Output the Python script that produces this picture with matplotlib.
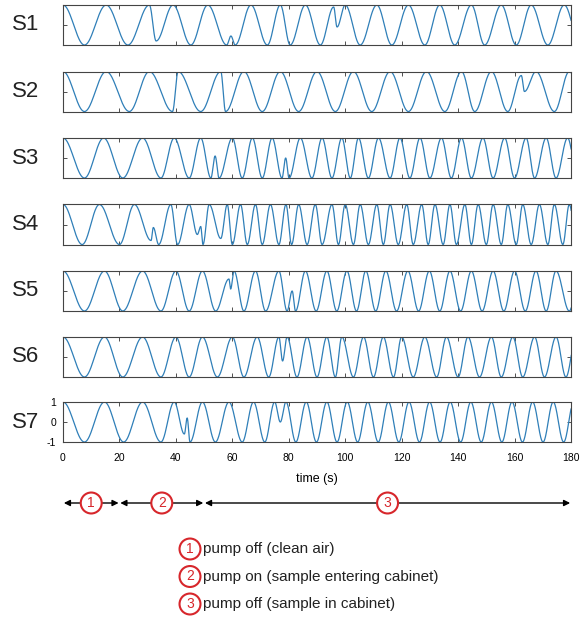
import numpy as np
import matplotlib.pyplot as plt

plt.rcParams['font.family'] = ['Liberation Sans', 'DejaVu Sans']
plt.rcParams['axes.unicode_minus'] = False

# extrema of each sensor trace (time in s, normalised value)
s1 = [(0, 1), (7.6, -1), (15.3, 1), (23, -1), (30.6, 1), (33, -0.8), (39, 1), (45.3, -1),
      (51.3, 1), (58, -1), (59.5, -0.55), (61, -1), (66.6, 1), (72.4, -1), (77, 1), (80.5, -1),
      (85.9, 1), (91.2, -1), (95.9, 0.9), (97.1, -0.1), (100, 1), (105.3, -1), (111.2, 1),
      (116.5, -1), (122.4, 1), (128.2, -1), (133.5, 1), (138.8, -1), (144.7, 1), (149.4, -1),
      (155.3, 1), (160.6, -1), (165.9, 1), (171.8, -1), (177.6, 1), (183.3, -1)]
s2 = [(0, 1), (7.6, -1), (15.3, 1), (23.5, -1), (30.6, 1), (38.8, -1), (40.8, 1), (48.8, -1),
      (55.9, 1), (57.6, -1), (64.1, 1), (70.6, -1), (77, 1), (83.5, -1), (90, 1), (96.5, -1),
      (102.9, 1), (109.4, -1), (115.9, 1), (122.4, -1), (128.8, 1), (135.3, -1), (141.2, 1),
      (145.9, -1), (151.8, 1), (157.6, -1), (162.4, 0.8), (163.5, 0.0), (167.6, 1), (174.1, -1),
      (179.4, 1), (185, -1)]
s3 = [(0, 1), (7.6, -1), (14.4, 1), (21.2, -1), (28.2, 1), (34.7, -1), (39.4, 1), (44.7, -1),
      (48.8, 1), (52.4, -1), (53.9, 0.1), (55.3, -1), (60, 1), (63.5, -1), (67.1, 1), (70.6, -1),
      (74.1, 1), (77.6, -1), (78.9, 0.0), (80.1, -1), (84.1, 1), (88.2, -1), (91.8, 1), (95.3, -1),
      (98.8, 1), (101.8, -1), (104.7, 1), (108.2, -1), (111.8, 1), (115.9, -1), (119.4, 1),
      (122.9, -1), (126.5, 1), (130, -1), (134.1, 1), (137.6, -1), (141.2, 1), (144.7, -1),
      (148.8, 1), (152.4, -1), (156.5, 1), (160, -1), (164.1, 1), (167.1, -1), (171.2, 1),
      (174.7, -1), (178.8, 1), (182.3, -1)]
s4 = [(0, 1), (6.8, -1), (12.9, 1), (20, -1), (25.3, 1), (31.2, -0.8), (32, -0.15), (33.9, -1),
      (38.2, 1), (40.6, -1), (44.7, 1), (47.6, -0.5), (48.8, -0.1), (49.6, -1), (51.8, 1),
      (55.9, -0.7), (58.2, 1), (60, -1), (62.9, 1), (65.3, -1), (68.2, 1), (70.6, -1), (73.5, 1),
      (76.5, -1), (79, 1), (81, -1), (83.5, 1), (86.5, -1), (89.4, 1), (91.8, -1), (95.3, 1),
      (97.6, -1), (100, 1), (102.9, -1), (105.3, 1), (108.2, -1), (111.2, 1), (113.5, -1),
      (115.9, 1), (118.8, -1), (121.8, 1), (124.1, -1), (127.1, 1), (129.4, -1), (131.8, 1),
      (134.7, -1), (137.1, 1), (139.4, -1), (142.4, 1), (144.7, -1), (147.1, 1), (150, -1),
      (152.4, 1), (155.3, -1), (157.6, 1), (160.6, -1), (162.9, 1), (165.9, -1), (168.8, 1),
      (171.8, -1), (174.1, 1), (177.1, -1), (179.4, 1), (182, -1)]
s5 = [(0, 1), (7.6, -1), (14.7, 1), (21.2, -1), (28.2, 1), (34.7, -1), (40, 1), (44.7, -1),
      (49.4, 1), (54.1, -1), (58.8, 0.6), (59.4, 0.1), (60.6, 1), (64.1, -1), (68.2, 1),
      (71.8, -1), (76.5, 1), (79.4, -1), (81.2, 0.0), (82.4, -1), (85.9, 1), (89.7, -1),
      (93.5, 1), (97, -1), (100.6, 1), (104, -1), (107.3, 1), (110.8, -1), (114.4, 1), (118.2, -1),
      (122.2, 1), (126, -1), (129.8, 1), (133.5, -1), (137.1, 1), (140.9, -1), (144.7, 1),
      (148.5, -1), (152.4, 1), (156.2, -1), (160, 1), (163.8, -1), (167.6, 1), (171.2, -1),
      (174.7, 1), (179.4, -1), (183, 1)]
s6 = [(0, 1), (7.6, -1), (14.7, 1), (21.2, -1), (28.2, 1), (34.7, -1), (40, 1), (44.7, -1),
      (49.4, 1), (54.7, -1), (60, 1), (64.1, -1), (68.8, 1), (72.9, -1), (76.5, 1), (77.8, -0.2),
      (79.4, 1), (82.9, -1), (86.5, 1), (90, -1), (93.5, 1), (96.5, -1), (98.8, 1), (102.9, -1),
      (106.5, 1), (110, -1), (113.5, 1), (117.1, -1), (120, 1), (124.1, -1), (128.2, 1),
      (132.4, -1), (135.9, 1), (140, -1), (143.5, 1), (147.6, -1), (151.8, 1), (155.3, -1),
      (159.4, 1), (162.9, -1), (167.1, 1), (170.6, -1), (174.7, 1), (178.2, -1), (181.8, 1)]
s7 = [(0, 1), (7.6, -1), (14.7, 1), (21.5, -1), (28.2, 1), (34.7, -1), (39.4, 1), (43, -0.6),
      (44, 0.2), (45, -1), (49.4, 1), (54, -1), (58.8, 1), (63.5, -1), (67.5, 1), (71.5, -1),
      (75, 1), (77, 0.0), (79, 1), (82.5, -1), (86.2, 1), (89.8, -1), (93.5, 1), (97.1, -1),
      (100.7, 1), (104.4, -1), (108, 1), (111.7, -1), (115.3, 1), (119, -1), (122.6, 1),
      (126.3, -1), (129.9, 1), (133.6, -1), (137.2, 1), (140.9, -1), (144.5, 1), (148.2, -1),
      (151.8, 1), (155.5, -1), (159.1, 1), (162.8, -1), (166.4, 1), (170.1, -1), (173.7, 1),
      (177.4, -1), (181, 1)]

sensors = ['S1', 'S2', 'S3', 'S4', 'S5', 'S6', 'S7']
traces = [s1, s2, s3, s4, s5, s6, s7]

phase_bounds = [0, 20, 50, 180]
phase_ids = ['1', '2', '3']
phase_desc = ['pump off (clean air)',
              'pump on (sample entering cabinet)',
              'pump off (sample in cabinet)']

x_ticks = list(range(0, 181, 20))
line_col = '#2f7fb8'
red = '#d7262b'


def smooth_trace(ext, n=40):
    # half-cosine between neighbouring extrema, so it looks like the sampled sine
    tt, vv = [], []
    for (t0, v0), (t1, v1) in zip(ext[:-1], ext[1:]):
        s = np.linspace(0, 1, n, endpoint=False)
        tt.append(t0 + (t1 - t0) * s)
        vv.append(v0 + (v1 - v0) * (1 - np.cos(np.pi * s)) / 2)
    tt.append([ext[-1][0]])
    vv.append([ext[-1][1]])
    return np.concatenate(tt), np.concatenate(vv)


W, H = 580, 625
fig = plt.figure(figsize=(W / 100, H / 100), dpi=100)

left, right = 63, 571
tops = [5, 71.5, 138, 204.5, 271, 337, 402]
ph = 40

for i, (name, ext) in enumerate(zip(sensors, traces)):
    ax = fig.add_axes([left / W, 1 - (tops[i] + ph) / H, (right - left) / W, ph / H])
    t, v = smooth_trace(ext)
    ax.plot(t, v, color=line_col, lw=0.9)
    ax.set_xlim(0, 180)
    ax.set_ylim(-1, 1)
    ax.set_xticks(x_ticks)
    ax.set_yticks([-1, 0, 1])
    ax.tick_params(direction='in', top=True, right=True, length=3, width=0.6,
                   color='#333333', labelsize=7.5)
    ax.tick_params(axis='x', pad=8)
    ax.tick_params(axis='y', pad=5)
    for sp in ax.spines.values():
        sp.set_color('#444444')
        sp.set_linewidth(0.8)
    if i < len(sensors) - 1:
        ax.set_xticklabels([])
        ax.set_yticklabels([])
    else:
        ax.set_xlabel('time (s)', fontsize=9, labelpad=7)
    fig.text(26 / W, 1 - (tops[i] + ph / 2) / H, name, fontsize=16,
             ha='center', va='center', color='#222222')

# phase arrows under the time axis
axp = fig.add_axes([left / W, 1 - 515 / H, (right - left) / W, 24 / H])
axp.set_xlim(0, 180)
axp.set_ylim(0, 1)
axp.axis('off')
for k, pid in enumerate(phase_ids):
    a, b = phase_bounds[k], phase_bounds[k + 1]
    axp.annotate('', xy=(a + 0.3, 0.5), xytext=(b - 0.3, 0.5),
                 arrowprops=dict(arrowstyle='<|-|>', color='black', lw=1.0,
                                 mutation_scale=9, shrinkA=0, shrinkB=0))
    axp.text((a + b) / 2, 0.5, pid, fontsize=10, color=red, ha='center', va='center',
             bbox=dict(boxstyle='circle,pad=0.25', fc='white', ec=red, lw=1.5))

# legend of phases
for k, (pid, desc) in enumerate(zip(phase_ids, phase_desc)):
    y = 1 - (549 + 27.5 * k) / H
    fig.text(190 / W, y, pid, fontsize=10, color=red, ha='center', va='center',
             bbox=dict(boxstyle='circle,pad=0.25', fc='white', ec=red, lw=1.5))
    fig.text(203 / W, y, desc, fontsize=11, color='#222222', ha='left', va='center')

fig.savefig('out.png', dpi=100)
